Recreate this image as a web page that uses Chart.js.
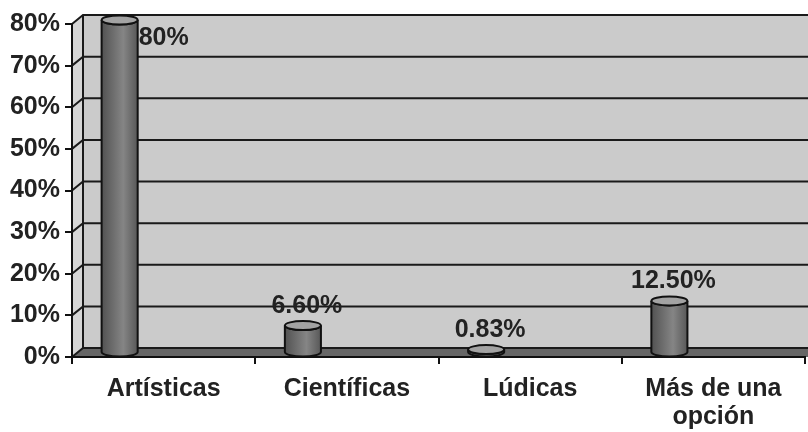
<!DOCTYPE html>
<html>
<head>
<meta charset="utf-8">
<script src="https://cdn.jsdelivr.net/npm/chart.js@4/dist/chart.umd.min.js"></script>
<style>
  html, body { margin: 0; padding: 0; background: #fff; }
</style>
</head>
<body>
<canvas id="chart" width="808" height="432"></canvas>
<script>
// data
const categories = ['Artísticas', 'Científicas', 'Lúdicas', ['Más de una', 'opción']];
const values = [80, 6.6, 0.83, 12.5];
const valueLabels = ['80%', '6.60%', '0.83%', '12.50%'];
const yMin = 0;
const yMax = 80;
const yStep = 10;

// 3d look
const depthX = 11;
const depthY = 9;
const barLift = 4;
const capRadiusY = 4.5;
const font = { family: "'Liberation Sans', Arial, sans-serif", size: 25, weight: 'bold', lineHeight: 1.12 };

Chart.defaults.color = '#222';

const wallPlugin = {
    id: 'walls',
    beforeDraw(chart) {
        const ctx = chart.ctx;
        const a = chart.chartArea;
        const y = chart.scales.y;
        const right = chart.width;
        ctx.save();

        // back wall
        ctx.fillStyle = '#cbcbcb';
        ctx.fillRect(a.left + depthX, a.top - depthY, right - a.left - depthX, a.bottom - a.top);

        // side wall
        ctx.fillStyle = '#d6d6d6';
        ctx.beginPath();
        ctx.moveTo(a.left, a.top);
        ctx.lineTo(a.left + depthX, a.top - depthY);
        ctx.lineTo(a.left + depthX, a.bottom - depthY);
        ctx.lineTo(a.left, a.bottom);
        ctx.closePath();
        ctx.fill();

        // floor
        ctx.fillStyle = '#666';
        ctx.beginPath();
        ctx.moveTo(a.left, a.bottom);
        ctx.lineTo(a.left + depthX, a.bottom - depthY);
        ctx.lineTo(right, a.bottom - depthY);
        ctx.lineTo(right, a.bottom);
        ctx.closePath();
        ctx.fill();

        // grid lines on the walls
        ctx.strokeStyle = '#1a1a1a';
        ctx.lineWidth = 2;
        y.ticks.forEach(t => {
            const py = y.getPixelForValue(t.value);
            ctx.beginPath();
            ctx.moveTo(a.left, py);
            ctx.lineTo(a.left + depthX, py - depthY);
            ctx.lineTo(right, py - depthY);
            ctx.stroke();
        });

        // back wall edge
        ctx.beginPath();
        ctx.moveTo(a.left + depthX, a.top - depthY);
        ctx.lineTo(a.left + depthX, a.bottom - depthY);
        ctx.stroke();
        ctx.restore();
    }
};

const cylinderPlugin = {
    id: 'cylinders',
    afterDatasetsDraw(chart) {
        const ctx = chart.ctx;
        const meta = chart.getDatasetMeta(0);
        ctx.save();
        meta.data.forEach((bar, i) => {
            const p = bar.getProps(['x', 'y', 'base', 'width'], true);
            const rx = p.width / 2;
            const top = p.y - barLift;
            const bottom = p.base - barLift;

            const grad = ctx.createLinearGradient(p.x - rx, 0, p.x + rx, 0);
            grad.addColorStop(0, '#525252');
            grad.addColorStop(0.6, '#858585');
            grad.addColorStop(1, '#585858');

            ctx.beginPath();
            ctx.moveTo(p.x - rx, top);
            ctx.lineTo(p.x - rx, bottom);
            ctx.ellipse(p.x, bottom, rx, capRadiusY, 0, Math.PI, 0, true);
            ctx.lineTo(p.x + rx, top);
            ctx.ellipse(p.x, top, rx, capRadiusY, 0, 0, Math.PI, false);
            ctx.closePath();
            ctx.fillStyle = grad;
            ctx.fill();
            ctx.strokeStyle = '#111';
            ctx.lineWidth = 2;
            ctx.stroke();

            // cap
            ctx.beginPath();
            ctx.ellipse(p.x, top, rx, capRadiusY, 0, 0, Math.PI * 2);
            ctx.fillStyle = '#a3a3a3';
            ctx.fill();
            ctx.stroke();

            // value label
            ctx.font = `${font.weight} ${font.size}px ${font.family}`;
            ctx.fillStyle = '#222';
            const textTop = top - capRadiusY - 8 - font.size * 0.75;
            if (textTop < 0) {
                ctx.textAlign = 'left';
                ctx.textBaseline = 'middle';
                ctx.fillText(valueLabels[i], p.x + rx + 1, top + 18);
            } else {
                ctx.textAlign = 'center';
                ctx.textBaseline = 'alphabetic';
                ctx.fillText(valueLabels[i], p.x + 4, top - capRadiusY - 8);
            }
        });
        ctx.restore();
    }
};

new Chart(document.getElementById('chart'), {
    type: 'bar',
    data: {
        labels: categories,
        datasets: [
            { data: values, backgroundColor: 'rgba(0,0,0,0)', borderWidth: 0 },
            { data: values.map(() => null), backgroundColor: 'rgba(0,0,0,0)', borderWidth: 0 }
        ]
    },
    options: {
        responsive: false,
        animation: false,
        categoryPercentage: 0.96,
        barPercentage: 0.41,
        layout: { padding: { top: 24, right: 3, left: 0, bottom: 0 } },
        plugins: {
            legend: { display: false },
            tooltip: { enabled: false }
        },
        scales: {
            x: {
                grid: { display: true, drawOnChartArea: false, tickLength: 7, color: '#111', lineWidth: 2 },
                border: { display: true, color: '#111', width: 2 },
                ticks: { font: font, color: '#222', padding: 11, maxRotation: 0, autoSkip: false },
                afterFit(scale) { scale.height = 75; }
            },
            y: {
                min: yMin,
                max: yMax,
                grid: { display: true, drawOnChartArea: false, tickLength: 7, color: '#111', lineWidth: 2 },
                border: { display: true, color: '#111', width: 2 },
                ticks: {
                    stepSize: yStep,
                    font: font,
                    color: '#222',
                    padding: 5,
                    callback: v => v + '%'
                },
                afterFit(scale) { scale.width = 72; }
            }
        }
    },
    plugins: [wallPlugin, cylinderPlugin]
});
</script>
</body>
</html>
